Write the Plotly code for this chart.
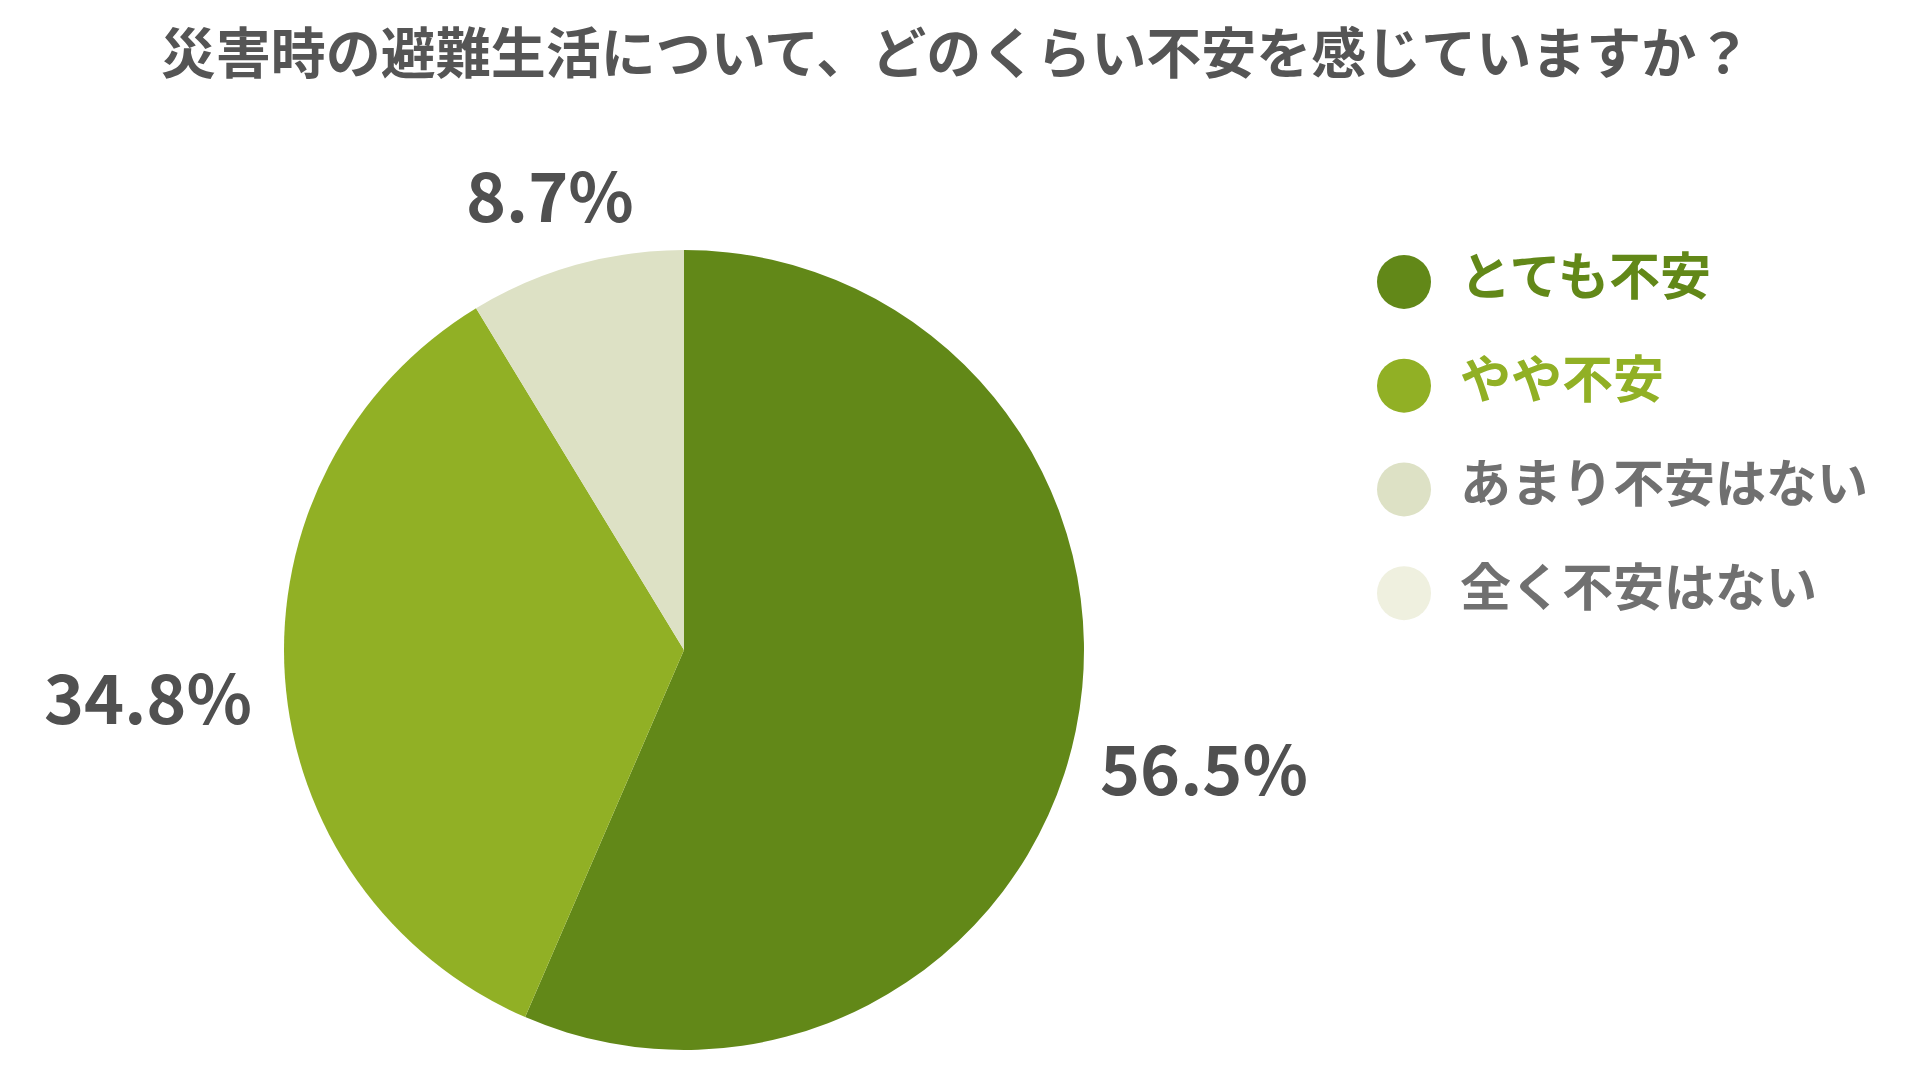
import plotly.graph_objects as go

title = "災害時の避難生活について、どのくらい不安を感じていますか？"
labels = ["とても不安", "やや不安", "あまり不安はない", "全く不安はない"]
values = [56.5, 34.8, 8.7, 0.0]
colors = ["#628818", "#91b025", "#dde1c5", "#eff0df"]
text_colors = ["#628818", "#91b025", "#707070", "#707070"]

W, H = 1920, 1080
OX, OY = -10, -8   # page body margin compensation
FONT = "Noto Sans CJK JP"


def px_x(x):
    return (x + OX) / W


def px_y(y):
    return 1 - (y + OY) / H


fig = go.Figure()

# pie (center 687,652 / radius 400 px)
fig.add_trace(go.Pie(
    labels=labels, values=values, sort=False, direction="clockwise", rotation=0,
    marker=dict(colors=colors, line=dict(width=0)),
    textinfo="none", hoverinfo="label+percent", showlegend=False,
    domain=dict(x=[px_x(286), px_x(1086)], y=[px_y(1050), px_y(250)]),
))

# legend drawn as a scatter on hidden axes
fig.add_trace(go.Scatter(
    x=[62] * len(labels), y=labels, mode="markers",
    marker=dict(size=54, color=colors, line=dict(width=0)),
    hoverinfo="skip", showlegend=False,
))
fig.add_trace(go.Scatter(
    x=[118] * len(labels), y=labels, mode="text", text=labels,
    textposition="middle right",
    textfont=dict(family=FONT, size=51, color=text_colors, weight="bold"),
    hoverinfo="skip", showlegend=False,
))

# percent labels
label_pos = [(1206, 765), (150, 694), (552, 193)]
for v, (lx, ly) in zip(values, label_pos):
    fig.add_annotation(
        x=px_x(lx), y=px_y(ly), xref="paper", yref="paper",
        xanchor="center", yanchor="middle",
        text=f"{v}%", showarrow=False,
        font=dict(family=FONT, size=68, color="#505050", weight="bold"),
    )

fig.update_layout(
    width=W, height=H,
    margin=dict(t=0, l=0, r=0, b=0),
    paper_bgcolor="white", plot_bgcolor="white",
    title=dict(text=title, x=px_x(958), xanchor="center", y=px_y(54), yanchor="middle",
               font=dict(family=FONT, size=55, color="#555555", weight="bold")),
    xaxis=dict(domain=[px_x(1344), px_x(1920)], range=[0, 576], visible=False, fixedrange=True),
    yaxis=dict(domain=[px_y(645), px_y(230)], range=[3.5, -0.5], visible=False,
               fixedrange=True, type="category"),
)

fig.write_html("out.html")
